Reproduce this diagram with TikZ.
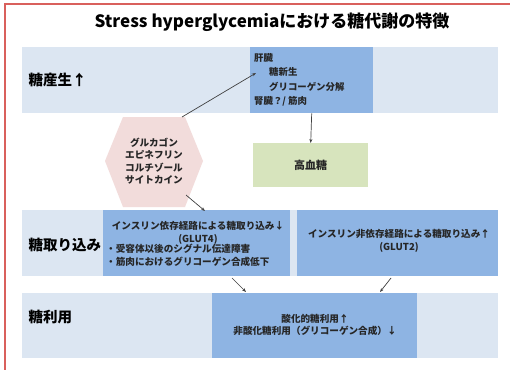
\documentclass[tikz,border=0pt]{standalone}
\usepackage{fontspec}
\setmainfont{Noto Sans CJK JP}
\usetikzlibrary{shapes.geometric,arrows.meta}
\definecolor{bandc}{HTML}{DCE6F2}
\definecolor{darkc}{HTML}{8EB4E3}
\definecolor{greenc}{HTML}{D7E4BD}
\definecolor{pinkc}{HTML}{F2DCDB}
\definecolor{framec}{HTML}{D9605C}
\definecolor{arrc}{HTML}{404040}
\begin{document}
\begin{tikzpicture}[x=1pt,y=-1pt,
  band/.style={fill=bandc,draw=none,anchor=north west,inner sep=0pt},
  darkbox/.style={fill=darkc,draw=none,anchor=north west,inner sep=0pt},
  rowlabel/.style={anchor=west,font=\fontsize{14.5}{16}\selectfont\bfseries},
  boxtext/.style={font=\fontsize{9.6}{12.5}\selectfont\bfseries,text=black!85,align=center},
  conn/.style={draw=arrc,line width=0.7pt,-{Stealth[length=4pt,width=3pt]}}]
\useasboundingbox (0,0) rectangle (510,369);
\fill[white] (0,0) rectangle (510,369);
% frame
\draw[framec,line width=1.3pt] (5,372) -- (5,4) -- (513,4);
% title
\node[font=\fontsize{17}{20}\selectfont\bfseries] (title) at (272,22) {Stress hyperglycemiaにおける糖代謝の特徴};
% row 1
\node[band,minimum width=476pt,minimum height=66pt] (band1) at (22,47) {};
\node[darkbox,minimum width=123pt,minimum height=66pt] (liver) at (250,47) {};
\node[rowlabel] (lab1) at (25,80) {糖産生↑};
\node[anchor=north west,inner sep=0pt,font=\fontsize{9.4}{14.5}\selectfont\bfseries,text=black!85,align=left] (livertext) at (254,53)
  {肝臓\\\hspace{15pt}糖新生\\\hspace{15pt}グリコーゲン分解\\腎臓？/ 筋肉};
% hyperglycemia
\node[fill=greenc,anchor=north west,minimum width=115pt,minimum height=44pt,inner sep=0pt] (hyper) at (253,143) {};
\node[font=\fontsize{11}{13}\selectfont\bfseries,text=black!85] (hypertext) at (hyper.center) {高血糖};
% hexagon
\fill[pinkc] (105,161) -- (123,117) -- (185,117) -- (203,161) -- (185,207) -- (123,207) -- cycle;
\node[boxtext] (hextext) at (154,161) {グルカゴン\\エピネフリン\\コルチゾール\\サイトカイン};
% row 2
\node[band,minimum width=476pt,minimum height=66pt] (band2) at (22,210) {};
\node[darkbox,minimum width=187pt,minimum height=66pt] (insdep) at (103,210) {};
\node[darkbox,minimum width=201pt,minimum height=66pt] (insindep) at (297,210) {};
\node[rowlabel] (lab2) at (25,245) {糖取り込み};
\node[boxtext,anchor=north] (insdepA) at (198,218) {インスリン依存経路による糖取り込み↓\\(GLUT4)};
\node[boxtext,anchor=north west,align=left,inner sep=0pt] (insdepB) at (106,244) {・受容体以後のシグナル伝達障害\\・筋肉におけるグリコーゲン合成低下};
\node[boxtext] (insindeptext) at (399,241) {インスリン非依存経路による糖取り込み↑\\(GLUT2)};
% row 3
\node[band,minimum width=476pt,minimum height=65pt] (band3) at (22,293) {};
\node[darkbox,minimum width=205pt,minimum height=65pt] (util) at (212,293) {};
\node[rowlabel] (lab3) at (25,317) {糖利用};
\node[boxtext] (utiltext) at (315,325) {酸化的糖利用↑\\非酸化糖利用（グリコーゲン合成）↓};
% connectors
\coordinate (c1) at (182,117);
\coordinate (c1e) at (256,73);
\draw[conn] (c1) -- (c1e);
\draw[conn] (liver.south) -- (hyper.north);
\coordinate (c2) at (186,195);
\coordinate (c2e) at (205,211);
\draw[conn] (c2) -- (c2e);
\coordinate (c3) at (232,278);
\coordinate (c3e) at (246,292);
\draw[conn] (c3) -- (c3e);
\coordinate (c4) at (391,278);
\coordinate (c4e) at (380,292);
\draw[conn] (c4) -- (c4e);
\end{tikzpicture}
\end{document}
